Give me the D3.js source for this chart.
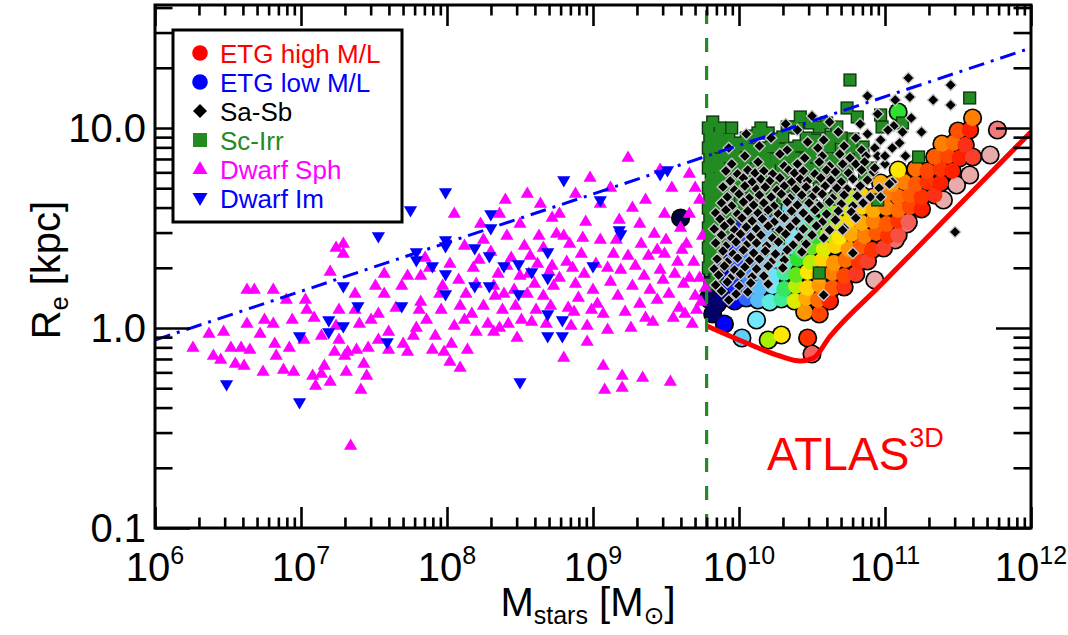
<!DOCTYPE html>
<html><head><meta charset="utf-8">
<script src="https://cdn.jsdelivr.net/npm/d3@7"></script>
<style>
body{margin:0;background:#fff}
svg{display:block}
text{font-family:"Liberation Sans",Arial,Helvetica,sans-serif}
</style>
</head><body>
<svg id="chart" width="1068" height="635"></svg>
<script>
// ---------------- DATA (log10 Mstars [Msun], log10 Re [kpc]) ----------------
const xTickExponents = [6, 7, 8, 9, 10, 11, 12];
const yTickValues = [0.1, 1, 10];
const yTickLabels = ["0.1", "1.0", "10.0"];
const legendLabels = ["ETG high M/L", "ETG low M/L", "Sa-Sb", "Sc-Irr", "Dwarf Sph", "Dwarf Im"];
const massLimit = 6e9;

// Dwarf spheroidals
const dwarfSph = [
[6.26,-0.10],[6.37,-0.03],[6.47,-0.02],[6.40,-0.14],[6.45,-0.16],[6.52,-0.10],[6.59,-0.10],[6.65,-0.11],[6.55,-0.18],[6.61,-0.19],
[6.63,0.02],[6.63,0.19],[6.68,0.19],[6.81,0.19],[6.72,-0.03],[6.74,-0.22],[6.75,0.04],[6.81,0.02],[6.82,-0.08],[6.83,-0.14],
[6.90,0.14],[6.88,-0.21],[6.92,-0.10],[6.95,-0.22],[6.94,0.04],[7.03,0.14],[7.04,0.09],[7.02,-0.06],[7.09,0.05],[7.08,-0.24],
[7.10,-0.29],[7.14,-0.23],[7.16,-0.19],[7.14,-0.04],[7.20,0.28],[7.20,-0.27],[7.23,-0.12],[7.24,0.01],[7.26,0.09],[7.26,-0.06],
[7.24,0.40],[7.29,0.42],[7.29,0.37],[7.30,-0.14],[7.31,-0.22],[7.32,-0.12],[7.37,0.17],[7.37,0.09],[7.38,-0.11],[7.41,-0.31],
[7.43,-0.18],[7.45,-0.24],[7.46,-0.10],[7.48,0.04],[7.51,0.21],[7.53,0.07],[7.57,0.17],[7.57,0.27],[7.53,-0.06],[7.60,-0.02],
[7.60,-0.11],[7.69,0.21],[7.73,0.26],[7.77,-0.04],[7.79,0.00],[7.73,-0.12],[7.82,0.26],[7.82,0.13],[7.81,0.09],[7.86,0.04],
[7.85,0.35],[7.90,-0.11],[7.92,-0.04],[7.96,0.09],[7.97,0.21],[8.02,0.32],[8.02,-0.17],[8.03,-0.08],[8.05,0.01],[8.09,-0.20],
[8.09,0.11],[8.12,0.04],[8.13,0.17],[8.12,0.41],[8.14,-0.11],[8.17,0.07],[8.20,0.22],[8.20,-0.02],[8.22,0.34],[8.25,0.11],
[8.25,0.44],[8.28,0.02],[8.32,-0.02],[8.32,0.21],[8.33,0.16],[8.35,0.27],[8.38,0.09],[8.39,0.17],[8.41,0.31],[8.41,0.46],
[8.42,0.02],[8.44,0.35],[8.46,0.19],[8.47,0.11],[8.50,0.26],[8.51,0.04],[8.53,0.41],[8.55,0.17],[8.56,0.27],[8.60,0.22],
[8.61,0.09],[8.62,0.32],[8.63,0.46],[8.66,0.40],[8.66,0.16],[8.68,0.02],[8.71,0.11],[8.72,0.31],[8.73,0.21],[8.75,0.47],
[8.77,0.25],[8.80,-0.15],[8.80,0.46],[8.82,0.33],[8.83,0.10],[8.84,0.42],[8.85,0.01],[8.88,0.22],[8.90,0.15],[8.92,0.37],
[8.94,0.27],[8.96,0.01],[8.96,-0.07],[8.99,0.09],[9.00,0.19],[9.02,0.32],[9.05,0.44],[9.07,0.07],[9.07,-0.19],[9.08,-0.31],
[9.10,-0.01],[9.12,0.23],[9.14,0.37],[9.17,0.16],[9.19,0.29],[9.20,-0.24],[9.20,-0.30],[9.24,0.36],[9.27,0.21],[9.32,0.12],
[9.33,0.42],[9.34,-0.25],[9.35,0.26],[9.36,0.05],[9.39,0.19],[9.41,0.03],[9.42,0.47],[9.44,0.39],[9.46,0.29],[9.49,0.37],
[9.52,0.17],[9.53,-0.27],[9.56,0.27],[9.59,0.10],[9.61,0.39],[9.62,0.22],[9.63,0.07],[9.66,0.25],[9.68,0.02],[9.71,0.09],
[9.73,0.25],[9.75,0.46],[9.77,0.20],[7.34,-0.59],
[9.24,0.85],[9.46,0.79],[9.54,0.70],[9.66,0.77],[9.36,0.64],[9.05,0.62],[8.77,0.57],[8.64,0.62],[8.50,0.52],[8.36,0.57],
[8.23,0.52],[8.88,0.67],[8.95,0.53],[9.18,0.54],[9.32,0.52],[9.73,0.64],[9.66,0.57],[9.49,0.57],[8.05,0.57],[8.55,0.67],
[9.12,0.70],[9.60,0.50],[9.70,0.70],[9.27,0.60],[8.98,0.75],[8.40,0.64],[8.72,0.55],
[8.57,0.36],[8.70,0.28],[8.86,0.30],[8.93,0.45],[9.03,0.12],[9.10,0.30],[9.16,0.44],[9.22,0.08],[9.29,0.31],[9.38,0.36],
[9.44,0.14],[9.50,0.44],[9.55,0.05],[9.58,0.33],[9.64,0.42],[9.69,0.33],[9.74,0.13],[8.30,0.38],[8.18,0.30],[8.08,0.24],
[7.95,0.17],[7.88,0.30],[7.65,0.10],[7.40,0.02],[7.70,-0.08],[8.48,-0.05],[8.58,0.03],[8.87,0.08],[9.26,0.00],[9.48,0.24],
[9.70,0.16],[7.98,-0.12],[8.36,0.00]
];

// Dwarf irregulars
const dwarfIm = [
[6.49,-0.28],[6.99,-0.37],[6.99,-0.04],[7.19,0.04],[7.19,-0.02],[7.29,0.01],[7.29,0.21],[7.39,0.11],[7.59,-0.07],[7.69,0.11],
[7.79,0.38],[7.79,0.34],[7.90,0.31],[7.99,0.44],[7.99,0.41],[7.99,0.27],[7.99,0.17],[8.19,0.40],[8.19,0.21],[8.29,0.36],
[8.29,0.21],[8.39,0.31],[8.49,0.32],[8.49,0.17],[8.50,-0.27],[8.58,0.28],[8.69,0.38],[8.69,0.25],[8.69,0.07],[8.69,-0.04],
[8.79,0.04],[8.79,-0.04],[9.00,0.31],[9.19,0.47],[7.99,0.68],[8.30,0.57],[8.30,0.50],[8.80,0.74],[9.05,0.64],[9.46,0.77],
[9.51,0.79],[7.75,0.59],[7.53,0.46],[9.18,0.49]
];

// ATLAS3D early-type galaxies: [logM, logRe, stellar M/L]
const etg = [
[9.60,0.55,1.0],[10.02,-0.05,3.6],[10.20,-0.06,5.5],[10.29,-0.035,6.0],[10.47,-0.05,7.8],[10.50,-0.13,8.8],[10.12,0.04,4.0],
[9.90,0.02,2.0],[9.82,0.07,1.2],[9.85,0.12,1.2],[9.79,0.15,1.0],[10.45,0.08,6.8],[10.55,0.07,7.6],[11.09,1.08,5.0],
[11.77,0.99,9.2],[11.72,0.865,10],[11.58,0.765,10],[11.49,0.715,10],[11.40,0.64,10],[11.15,0.52,9.2],[11.07,0.44,9.0],[10.93,0.24,10],
[9.80,0.14,1.2],[9.88,0.145,1.3],[9.97,0.135,2.0],[10.05,0.15,2.6],[10.13,0.14,3.4],[10.21,0.13,4.2],[10.29,0.145,4.6],[10.38,0.135,5.8],[10.46,0.15,6.6],[10.54,0.14,7.2],[10.62,0.135,8.0],
[9.82,0.205,1.1],[9.90,0.21,1.5],[9.98,0.2,2.2],[10.06,0.215,2.8],[10.14,0.2,3.4],[10.23,0.21,4.0],[10.31,0.195,4.8],[10.39,0.21,5.6],[10.47,0.2,6.2],[10.55,0.215,6.8],[10.64,0.2,7.4],[10.72,0.205,8.2],
[9.82,0.27,1.2],[9.90,0.265,1.6],[9.98,0.28,2.4],[10.06,0.265,3.0],[10.14,0.275,3.4],[10.23,0.26,3.9],[10.31,0.275,4.6],[10.39,0.265,5.2],[10.47,0.28,6.0],[10.55,0.265,6.6],[10.64,0.275,7.0],[10.72,0.26,7.6],[10.80,0.27,8.3],
[9.83,0.335,1.3],[9.91,0.345,1.8],[9.99,0.33,2.4],[10.08,0.34,3.0],[10.16,0.325,3.5],[10.24,0.34,3.9],[10.32,0.33,4.4],[10.40,0.345,5.0],[10.49,0.33,5.6],[10.57,0.34,6.2],[10.65,0.325,6.8],[10.73,0.34,7.2],[10.82,0.33,7.8],[10.88,0.335,8.4],
[9.85,0.40,1.4],[9.92,0.39,2.0],[10.01,0.405,2.5],[10.09,0.395,3.2],[10.17,0.41,3.5],[10.25,0.395,3.8],[10.34,0.405,4.2],[10.42,0.39,4.8],[10.50,0.405,5.2],[10.58,0.395,5.8],[10.66,0.41,6.2],[10.75,0.395,6.8],[10.83,0.405,7.4],[10.91,0.39,7.8],[10.99,0.40,8.4],
[9.87,0.465,1.5],[9.95,0.475,2.0],[10.03,0.46,2.4],[10.12,0.47,3.2],[10.20,0.455,3.5],[10.28,0.47,3.8],[10.36,0.46,4.0],[10.45,0.475,4.6],[10.53,0.46,5.0],[10.61,0.47,5.6],[10.69,0.455,6.0],[10.77,0.47,6.6],[10.86,0.46,7.0],[10.94,0.475,7.4],[11.02,0.46,7.8],[11.09,0.465,8.6],
[9.94,0.53,1.8],[10.02,0.52,2.2],[10.10,0.535,2.8],[10.18,0.525,3.4],[10.27,0.54,3.6],[10.35,0.525,3.7],[10.43,0.535,4.2],[10.51,0.52,4.8],[10.60,0.535,5.2],[10.68,0.525,5.8],[10.76,0.54,6.2],[10.84,0.525,6.6],[10.92,0.535,7.0],[11.01,0.52,7.4],[11.09,0.535,7.8],[11.16,0.53,8.8],
[10.04,0.595,2.0],[10.14,0.6,3.0],[10.25,0.59,3.4],[10.35,0.605,3.6],[10.43,0.59,3.8],[10.51,0.6,4.4],[10.60,0.585,5.0],[10.68,0.6,5.4],[10.76,0.59,5.8],[10.84,0.605,6.2],[10.92,0.59,6.6],[11.01,0.6,7.0],[11.09,0.59,7.2],[11.17,0.605,7.6],[11.25,0.595,8.0],
[10.35,0.66,3.6],[10.43,0.655,3.7],[10.68,0.665,5.2],[10.76,0.655,5.6],[10.84,0.665,6.2],[10.92,0.655,6.6],[11.01,0.67,7.0],[11.09,0.655,7.2],[11.17,0.665,7.4],[11.25,0.655,7.8],[11.34,0.665,8.2],
[10.97,0.725,6.6],[11.05,0.72,6.8],[11.13,0.73,7.0],[11.21,0.72,7.4],[11.29,0.73,7.8],[11.38,0.725,8.0],
[11.09,0.79,6.0],[11.21,0.795,7.2],[11.29,0.785,7.6],[11.38,0.795,7.8],[11.46,0.785,8.0],
[11.34,0.855,7.4],[11.43,0.86,7.6],[11.51,0.85,8.0],[11.60,0.855,8.4],
[11.39,0.92,7.0],[11.47,0.925,7.2],[11.55,0.915,8.2],
[11.50,0.985,7.5],[11.58,0.99,8.0],[11.60,1.05,7.0]
];

// Sc-Irr spirals
const scIrr = [
[9.82,1.03],[9.87,1.00],[9.89,0.925],[9.99,0.925],[10.13,0.975],[10.20,0.975],[10.33,1.005],[10.37,1.005],[10.42,1.055],[10.49,1.025],
[10.55,1.005],[10.60,1.025],[10.67,1.005],[10.74,1.10],[10.76,1.24],[10.81,1.055],[10.97,1.065],[10.98,1.005],[11.58,1.15],[11.23,0.855],
[11.12,1.025],[10.55,0.275],[10.27,0.45],[10.95,0.64],
[9.79,1.00],[9.95,1.00],[10.15,1.00],[10.40,1.00],
[9.80,0.95],[9.86,0.955],[9.93,0.945],[10.05,0.95],[10.10,0.96],[10.24,0.945],[10.30,0.955],[10.46,0.95],[10.52,0.94],[10.63,0.955],[10.70,0.95],[10.78,0.945],
[9.79,0.90],[9.85,0.905],[9.91,0.895],[9.97,0.90],[10.03,0.91],[10.09,0.895],[10.16,0.90],[10.22,0.905],[10.28,0.895],[10.35,0.90],[10.41,0.91],[10.48,0.895],[10.56,0.90],[10.62,0.905],[10.70,0.895],[10.77,0.90],[10.85,0.905],
[9.80,0.85],[9.86,0.845],[9.92,0.855],[9.98,0.85],[10.04,0.845],[10.11,0.855],[10.18,0.85],[10.25,0.845],[10.32,0.855],[10.38,0.85],[10.45,0.845],[10.52,0.855],[10.60,0.85],[10.66,0.845],[10.73,0.855],[10.83,0.85],
[9.79,0.80],[9.84,0.805],[9.90,0.795],[9.96,0.80],[10.02,0.805],[10.08,0.795],[10.15,0.80],[10.21,0.805],[10.29,0.795],[10.36,0.80],[10.43,0.805],[10.50,0.795],[10.57,0.80],[10.65,0.805],[10.74,0.795],[10.90,0.80],
[9.81,0.75],[9.87,0.755],[9.93,0.745],[9.99,0.75],[10.06,0.755],[10.12,0.745],[10.20,0.75],[10.27,0.755],[10.34,0.745],[10.41,0.75],[10.49,0.755],[10.58,0.745],[10.70,0.75],[10.86,0.755],
[9.79,0.70],[9.85,0.705],[9.91,0.695],[9.98,0.70],[10.05,0.705],[10.13,0.695],[10.22,0.70],[10.31,0.705],[10.40,0.695],[10.55,0.70],[10.68,0.705],
[9.80,0.65],[9.86,0.655],[9.93,0.645],[10.01,0.65],[10.10,0.655],[10.19,0.645],[10.30,0.65],[10.45,0.655],[10.62,0.645],
[9.79,0.60],[9.85,0.605],[9.92,0.595],[10.00,0.60],[10.12,0.605],[10.25,0.595],
[9.80,0.55],[9.86,0.555],[9.94,0.545],[10.05,0.55],[9.79,0.50],[9.85,0.505],[9.92,0.495],
[9.80,0.45],[9.87,0.455],[9.79,0.40],[9.84,0.405],[9.80,0.35],[9.86,0.355],[9.79,0.30],[9.84,0.26],[9.80,0.22]
];

// Sa-Sb spirals
const saSb = [
[10.50,1.06],[10.95,1.07],
[10.32,1.02],[10.62,1.03],[10.83,1.02],[11.06,1.01],
[10.05,0.97],[10.40,0.99],[10.68,0.98],[10.88,0.97],[11.02,0.99],[11.12,0.98],
[10.22,0.95],[10.47,0.93],[10.58,0.94],[10.80,0.95],[10.97,0.94],
[9.93,0.90],[10.14,0.91],[10.33,0.89],[10.54,0.90],[10.72,0.91],[10.84,0.89],[10.93,0.90],[11.05,0.90],
[10.04,0.86],[10.28,0.87],[10.45,0.85],[10.57,0.86],[10.69,0.87],[10.76,0.85],[10.87,0.86],[10.95,0.86],
[9.95,0.82],[10.13,0.83],[10.31,0.81],[10.40,0.82],[10.55,0.83],[10.62,0.81],[10.71,0.82],[10.80,0.82],[10.86,0.83],[11.00,0.82],
[9.91,0.785],[9.99,0.77],[10.06,0.79],[10.11,0.775],[10.17,0.785],[10.23,0.77],[10.34,0.79],[10.38,0.775],[10.44,0.785],[10.52,0.77],[10.60,0.79],[10.66,0.78],[10.75,0.775],[10.84,0.79],[10.92,0.78],
[9.94,0.735],[10.03,0.75],[10.09,0.73],[10.15,0.745],[10.21,0.735],[10.28,0.75],[10.36,0.73],[10.42,0.745],[10.47,0.735],[10.56,0.75],[10.63,0.74],[10.70,0.73],[10.78,0.745],[10.88,0.74],
[9.89,0.705],[9.97,0.69],[10.04,0.71],[10.12,0.695],[10.18,0.705],[10.26,0.69],[10.31,0.71],[10.39,0.695],[10.46,0.705],[10.53,0.69],[10.59,0.71],[10.67,0.70],[10.74,0.695],[10.83,0.71],[10.96,0.70],
[9.92,0.655],[10.00,0.67],[10.07,0.65],[10.14,0.665],[10.22,0.655],[10.29,0.67],[10.35,0.65],[10.43,0.665],[10.50,0.655],[10.57,0.67],[10.64,0.65],[10.72,0.665],[10.81,0.66],[10.90,0.655],
[9.88,0.625],[9.95,0.61],[10.03,0.63],[10.10,0.615],[10.17,0.625],[10.24,0.61],[10.33,0.63],[10.40,0.615],[10.48,0.625],[10.55,0.61],[10.62,0.63],[10.70,0.62],[10.78,0.61],[10.85,0.625],
[9.84,0.575],[9.91,0.59],[9.99,0.57],[10.06,0.585],[10.13,0.575],[10.20,0.59],[10.27,0.57],[10.36,0.585],[10.44,0.575],[10.52,0.59],[10.60,0.57],[10.68,0.585],[10.77,0.58],
[9.87,0.545],[9.94,0.53],[10.02,0.55],[10.09,0.535],[10.16,0.545],[10.24,0.53],[10.31,0.55],[10.39,0.535],[10.48,0.545],[10.57,0.53],[10.66,0.54],
[9.83,0.495],[9.90,0.51],[9.97,0.49],[10.05,0.505],[10.12,0.495],[10.20,0.51],[10.28,0.49],[10.35,0.505],[10.44,0.495],[10.53,0.51],[10.62,0.49],[10.72,0.50],
[9.88,0.465],[9.95,0.45],[10.01,0.47],[10.08,0.455],[10.15,0.465],[10.23,0.45],[10.32,0.47],[10.41,0.455],[10.50,0.465],[10.58,0.45],
[9.84,0.425],[9.91,0.41],[9.98,0.43],[10.05,0.415],[10.12,0.425],[10.19,0.41],[10.27,0.43],[10.37,0.415],[10.46,0.42],
[9.89,0.385],[9.96,0.37],[10.03,0.39],[10.10,0.375],[10.18,0.385],[10.25,0.37],[10.33,0.39],[10.43,0.38],
[9.85,0.345],[9.92,0.33],[9.99,0.35],[10.07,0.335],[10.14,0.345],[10.22,0.33],[10.31,0.34],
[9.83,0.295],[9.90,0.31],[9.97,0.29],[10.04,0.305],[10.12,0.295],[10.20,0.31],[10.30,0.30],
[9.86,0.265],[9.94,0.25],[10.01,0.27],[10.09,0.255],[10.17,0.26],
[9.84,0.215],[9.92,0.23],[10.00,0.21],[10.08,0.225],[10.20,0.22],
[9.88,0.185],[9.98,0.17],[10.06,0.18],[9.93,0.14],
[10.58,0.165],[10.78,0.375],[10.71,0.49],[10.80,0.55],[10.97,0.655],[11.05,0.73],
[11.16,1.25],[11.45,1.215],[11.33,1.14],[11.45,1.115],[11.17,1.155],[11.07,1.14],[11.25,0.98],[11.48,0.48],[11.10,0.925],
[10.88,1.16],[11.18,1.05],[11.14,0.86],[10.93,0.80],[11.03,0.72],[11.00,0.86]
];

// Zone of exclusion (ATLAS3D) and upper envelope lines
const zoeLine = [[9.78,0.01],[10.05,-0.075],[10.28,-0.14],[10.42,-0.165],[10.51,-0.15],[10.62,-0.045],[10.97,0.215],[11.42,0.55],[12.0,0.98]];
const upperLine = [[6.0,-0.06],[12.0,1.40]];

// ---------------- CHART ----------------
const svg = d3.select("#chart");
const L = 155, R = 1031, T = 5, B = 528;
const x = d3.scaleLog().domain([1e6, 1e12]).range([L, R]);
const y = d3.scaleLog().domain([0.1, 41.2]).range([B, T]);
const px = d => x(Math.pow(10, d[0]));
const py = d => y(Math.pow(10, d[1]));

const mlColor = d3.scaleLinear()
  .domain([1, 2, 2.5, 3, 3.5, 4, 4.5, 5, 5.5, 6, 6.5, 7, 7.5, 8, 9, 10])
  .range(["#000040","#0000ff","#2a5cff","#3d8cff","#5cc8f8","#70e8ff","#40f0b0","#30e030","#a8f000","#ffe800","#ffb400","#ff8000","#ff5000","#ff2000","#f07070","#e8aaaa"])
  .clamp(true);

svg.append("defs").append("clipPath").attr("id","plotclip")
  .append("rect").attr("x",L).attr("y",T).attr("width",R-L).attr("height",B-T);
const plot = svg.append("g").attr("clip-path","url(#plotclip)");

const triUp = "M0,-7.6L6.6,3.8L-6.6,3.8Z";
const triDown = "M0,7.6L6.6,-3.8L-6.6,-3.8Z";
const diamond = "M0,-5.8L5.8,0L0,5.8L-5.8,0Z";

// ETG circles: black underlay then colour
plot.append("g").selectAll("circle").data(etg).join("circle")
  .attr("cx",px).attr("cy",py).attr("r",9.6).attr("fill","#000");
plot.append("g").selectAll("circle").data(etg).join("circle")
  .attr("cx",px).attr("cy",py).attr("r",7.9).attr("fill",d=>mlColor(d[2]));

// Sc-Irr squares
plot.append("g").selectAll("rect").data(scIrr).join("rect")
  .attr("x",d=>px(d)-6.6).attr("y",d=>py(d)-6.6).attr("width",13.2).attr("height",13.2).attr("fill","#0f3a0f");
plot.append("g").selectAll("rect").data(scIrr).join("rect")
  .attr("x",d=>px(d)-5.2).attr("y",d=>py(d)-5.2).attr("width",10.4).attr("height",10.4).attr("fill","#228b22");

// Sa-Sb diamonds
plot.append("g").selectAll("path").data(saSb).join("path")
  .attr("d",diamond).attr("transform",d=>`translate(${px(d)},${py(d)})`)
  .attr("fill","#000").attr("stroke","#c8c8c8").attr("stroke-width",1.3);

// Dwarfs
plot.append("g").selectAll("path").data(dwarfSph).join("path")
  .attr("d",triUp).attr("transform",d=>`translate(${px(d)},${py(d)})`).attr("fill","#ff00ff");
plot.append("g").selectAll("path").data(dwarfIm).join("path")
  .attr("d",triDown).attr("transform",d=>`translate(${px(d)},${py(d)})`).attr("fill","#0000ff");

// Lines
const line = d3.line().x(px).y(py);
plot.append("path").attr("d",line(upperLine)).attr("fill","none")
  .attr("stroke","#0000ff").attr("stroke-width",3).attr("stroke-dasharray","16,7,3,7");
plot.append("path").attr("d",line.curve(d3.curveMonotoneX)(zoeLine)).attr("fill","none")
  .attr("stroke","#ff0000").attr("stroke-width",5);
plot.append("line").attr("x1",x(massLimit)).attr("x2",x(massLimit)).attr("y1",B).attr("y2",T)
  .attr("stroke","#228b22").attr("stroke-width",3.2).attr("stroke-dasharray","14,14");

// Axes (ticks inward on all sides)
const xMajor = xTickExponents.map(e => Math.pow(10, e));
const xMinor = [];
xTickExponents.slice(0,-1).forEach(e => { for (let k=2;k<=9;k++) xMinor.push(k*Math.pow(10,e)); });
const yMinor = [];
[-1,0,1].forEach(e => { for (let k=2;k<=9;k++){ const v=k*Math.pow(10,e); if (v<=41.2) yMinor.push(v);} });

function styleAxis(g){
  g.select(".domain").remove();
  g.selectAll(".tick line").attr("stroke","#000").attr("stroke-width",2.6);
  g.selectAll(".tick text").remove();
}
svg.append("g").attr("transform",`translate(0,${B})`).call(d3.axisBottom(x).tickValues(xMajor).tickSize(-21)).call(styleAxis);
svg.append("g").attr("transform",`translate(0,${B})`).call(d3.axisBottom(x).tickValues(xMinor).tickSize(-10.5)).call(styleAxis);
svg.append("g").attr("transform",`translate(0,${T})`).call(d3.axisTop(x).tickValues(xMajor).tickSize(-21)).call(styleAxis);
svg.append("g").attr("transform",`translate(0,${T})`).call(d3.axisTop(x).tickValues(xMinor).tickSize(-10.5)).call(styleAxis);
svg.append("g").attr("transform",`translate(${L},0)`).call(d3.axisLeft(y).tickValues(yTickValues).tickSize(-35)).call(styleAxis);
svg.append("g").attr("transform",`translate(${L},0)`).call(d3.axisLeft(y).tickValues(yMinor).tickSize(-17.5)).call(styleAxis);
svg.append("g").attr("transform",`translate(${R},0)`).call(d3.axisRight(y).tickValues(yTickValues).tickSize(-35)).call(styleAxis);
svg.append("g").attr("transform",`translate(${R},0)`).call(d3.axisRight(y).tickValues(yMinor).tickSize(-17.5)).call(styleAxis);

svg.append("rect").attr("x",L).attr("y",T).attr("width",R-L).attr("height",B-T)
  .attr("fill","none").attr("stroke","#000").attr("stroke-width",3);

// Tick labels
xTickExponents.forEach(e => {
  const t = svg.append("text").attr("x", x(Math.pow(10,e))).attr("y", 581).attr("text-anchor","middle").attr("fill","#000");
  t.append("tspan").attr("font-size",40).text("10");
  t.append("tspan").attr("font-size",25).attr("dy",-17).text(e);
});
yTickValues.forEach((v,i) => {
  svg.append("text").attr("x",146).attr("y",y(v)).attr("dy","0.36em").attr("text-anchor","end")
    .attr("font-size",40).attr("fill","#000").text(yTickLabels[i]);
});

// Axis titles
const xt = svg.append("text").attr("x",588).attr("y",616).attr("text-anchor","middle").attr("fill","#000");
xt.append("tspan").attr("font-size",40).text("M");
xt.append("tspan").attr("font-size",25).attr("dy",8).text("stars");
xt.append("tspan").attr("font-size",40).attr("dy",-8).text(" [M");
xt.append("tspan").attr("font-size",25).attr("dy",8).attr("font-family","DejaVu Sans").text("\u2299");
xt.append("tspan").attr("font-size",40).attr("dy",-8).text("]");

const yt = svg.append("text").attr("transform","translate(60,270) rotate(-90)").attr("text-anchor","middle").attr("fill","#000");
yt.append("tspan").attr("font-size",40).text("R");
yt.append("tspan").attr("font-size",25).attr("dy",8).text("e");
yt.append("tspan").attr("font-size",40).attr("dy",-8).text(" [kpc]");

// ATLAS3D label
const at = svg.append("text").attr("x",767).attr("y",470).attr("fill","#ff0000");
at.append("tspan").attr("font-size",46).text("ATLAS");
at.append("tspan").attr("font-size",27).attr("dy",-23).text("3D");

// Legend
const lg = svg.append("g");
lg.append("rect").attr("x",173).attr("y",30).attr("width",229).attr("height",192)
  .attr("fill","#fff").attr("stroke","#000").attr("stroke-width",3);
const legendColors = ["#ff0000","#0000ff","#000000","#228b22","#ff00ff","#0000ff"];
const rowY = [53, 82, 111, 140, 169, 198];
legendLabels.forEach((lab,i) => {
  const cy = rowY[i];
  if (i < 2) lg.append("circle").attr("cx",200).attr("cy",cy).attr("r",7.8).attr("fill",legendColors[i]);
  else if (i === 2) lg.append("path").attr("d","M0,-7L7,0L0,7L-7,0Z").attr("transform",`translate(200,${cy})`).attr("fill","#000");
  else if (i === 3) lg.append("rect").attr("x",193).attr("y",cy-7).attr("width",14).attr("height",14).attr("fill",legendColors[i]);
  else if (i === 4) lg.append("path").attr("d","M0,-8L7.5,5L-7.5,5Z").attr("transform",`translate(200,${cy})`).attr("fill",legendColors[i]);
  else lg.append("path").attr("d","M0,8L7.5,-5L-7.5,-5Z").attr("transform",`translate(200,${cy})`).attr("fill",legendColors[i]);
  lg.append("text").attr("x",220).attr("y",cy+10).attr("font-size",26).attr("fill",legendColors[i]).text(lab);
});
</script>
</body></html>
